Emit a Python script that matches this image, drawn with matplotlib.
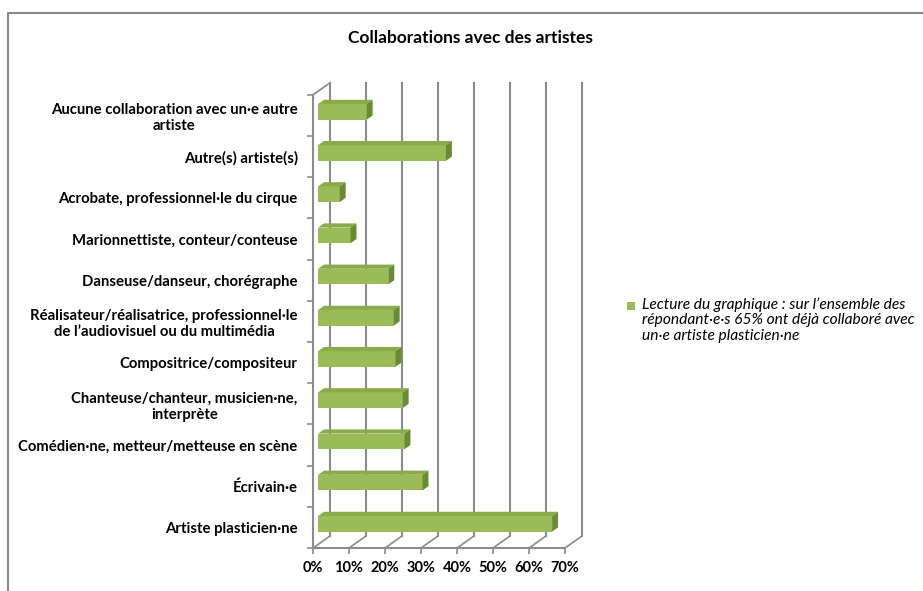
import matplotlib.pyplot as plt
from matplotlib.patches import Polygon, Rectangle
from matplotlib.lines import Line2D
import numpy as np

# categories in reading order (top to bottom)
categories = [
    "Aucune collaboration avec un·e autre\nartiste",
    "Autre(s) artiste(s)",
    "Acrobate, professionnel·le du cirque",
    "Marionnettiste, conteur/conteuse",
    "Danseuse/danseur, chorégraphe",
    "Réalisateur/réalisatrice, professionnel·le\nde l’audiovisuel ou du multimédia",
    "Compositrice/compositeur",
    "Chanteuse/chanteur, musicien·ne,\ninterprète",
    "Comédien·ne, metteur/metteuse en scène",
    "Écrivain·e",
    "Artiste plasticien·ne",
]
values = [13.5, 35.5, 6, 9, 19.5, 21, 21.5, 23.5, 24, 29, 65]
x_ticks = [0, 10, 20, 30, 40, 50, 60, 70]
x_labels = ["0%", "10%", "20%", "30%", "40%", "50%", "60%", "70%"]
title = "Collaborations avec des artistes"
legend_text = ("Lecture du graphique : sur l’ensemble des\n"
               "répondant·e·s 65% ont déjà collaboré avec\n"
               "un·e artiste plasticien·ne")

plt.rcParams['font.family'] = ['Lato', 'DejaVu Sans']

W, H = 923, 591
fig = plt.figure(figsize=(W / 100, H / 100), dpi=100)

# axes placed so the front plane maps 3.6 px per %, 41.2 px per category
xmin, xmax = -3, 80
ymin, ymax = -0.9, 11.0
px_x, px_y = 3.6, 41.2
left_px = 313 + xmin * px_x
bottom_px = 548 - (ymin + 0.5) * px_y
ax = fig.add_axes([left_px / W, 1 - bottom_px / H,
                   (xmax - xmin) * px_x / W, (ymax - ymin) * px_y / H])
ax.set_xlim(xmin, xmax)
ax.set_ylim(ymin, ymax)

# depth of the 3D box in data units (17 px right, 12 px up)
DX, DY = 17 / px_x, 12 / px_y
grid_c = '#8c8c8c'
n = len(categories)
ypos = np.arange(n)[::-1]
top = n - 0.5

# back wall gridlines
for v in x_ticks:
    ax.plot([v + DX, v + DX], [-0.5 + DY, top + DY], color=grid_c, lw=1.5, zorder=1)
    ax.plot([v, v + DX], [-0.5, -0.5 + DY], color=grid_c, lw=1.2, zorder=1)
# left wall top edge
ax.plot([0, DX], [top, top + DY], color=grid_c, lw=1.2, zorder=1)

# bars with fake 3D faces
d0 = 0.3
bh = 0.38
bdx, bdy = 0.35 * DX, 0.35 * DY
front_c, top_c, side_c = '#9bbb59', '#8aab4c', '#6b8a35'
x0 = d0 * DX
for y, v in zip(ypos, values):
    yc = y + d0 * DY
    yb, yt = yc - bh / 2, yc + bh / 2
    ax.barh(yc, v, left=x0, height=bh, color=front_c, zorder=3)
    ax.add_patch(Polygon([(x0, yt), (x0 + v, yt), (x0 + v + bdx, yt + bdy),
                          (x0 + bdx, yt + bdy)], closed=True,
                         facecolor=top_c, edgecolor='none', zorder=3))
    ax.add_patch(Polygon([(x0 + v, yb), (x0 + v, yt), (x0 + v + bdx, yt + bdy),
                          (x0 + v + bdx, yb + bdy)], closed=True,
                         facecolor=side_c, edgecolor='none', zorder=3))

# front axes
for s in ['top', 'right']:
    ax.spines[s].set_visible(False)
ax.spines['left'].set_position(('data', 0))
ax.spines['left'].set_bounds(-0.5, top)
ax.spines['bottom'].set_position(('data', -0.5))
ax.spines['bottom'].set_bounds(0, 70)
for s in ['left', 'bottom']:
    ax.spines[s].set_color(grid_c)
    ax.spines[s].set_linewidth(1.5)
    ax.spines[s].set_zorder(4)

ax.set_xticks(x_ticks, x_labels, fontsize=10.5, fontweight='bold')
ax.tick_params(axis='x', length=4, width=1.2, color=grid_c, pad=5)
ax.set_yticks(ypos, categories, fontsize=10.7, fontweight='bold',
              multialignment='center', linespacing=1.2)
ax.set_yticks(np.arange(-0.5, n, 1), minor=True)
ax.tick_params(axis='y', which='major', length=0, pad=11)
ax.tick_params(axis='y', which='minor', length=4, width=1.2, color=grid_c)
ax.set_facecolor('none')

# title
fig.text(470 / W, 1 - 38 / H, title, ha='center', va='center',
         fontsize=12.5, fontweight='bold')

# legend
fig.patches.append(Rectangle((627 / W, 1 - 310 / H), 8 / W, 8 / H,
                             transform=fig.transFigure, facecolor=front_c,
                             edgecolor='none'))
fig.text(642 / W, 1 - 297 / H, legend_text, ha='left', va='top',
         fontsize=11.2, fontstyle='italic', linespacing=1.15)

# chart border (top and left only)
fig.add_artist(Line2D([8 / W, 8 / W, 1], [0, 1 - 13 / H, 1 - 13 / H],
                      transform=fig.transFigure, color='#888888', lw=1.5))

fig.savefig('out.png', dpi=100)
